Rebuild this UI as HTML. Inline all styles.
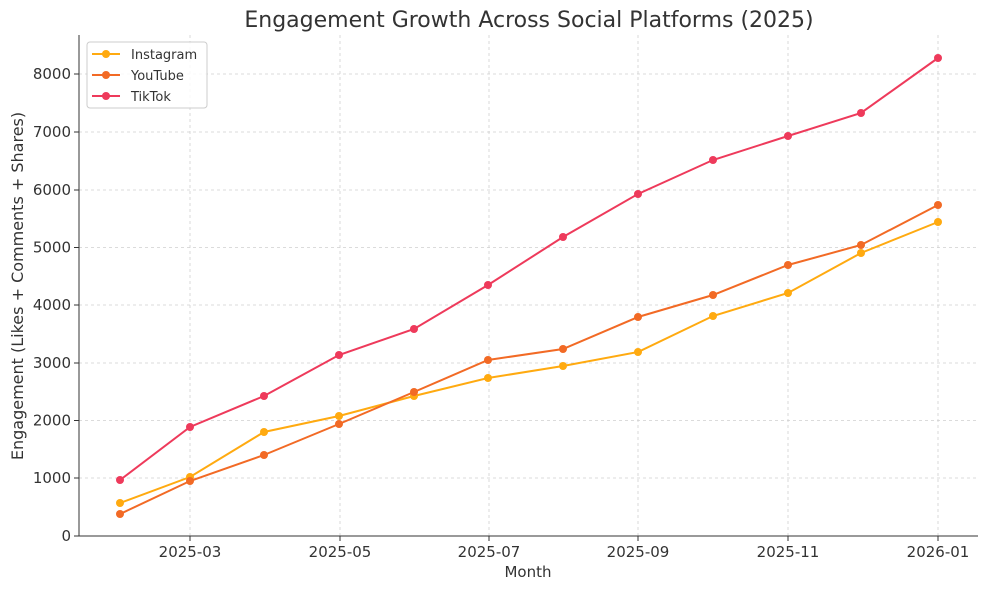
<!DOCTYPE html>
<html><head><meta charset="utf-8"><style>
body{margin:0;background:#fff;}
svg text{font-family:"DejaVu Sans","Liberation Sans",sans-serif;fill:#333;}
</style></head><body>
<svg width="988" height="590" viewBox="0 0 988 590" xmlns="http://www.w3.org/2000/svg">
<rect width="988" height="590" fill="#fff"/>
<text x="529" y="27" font-size="22" text-anchor="middle">Engagement Growth Across Social Platforms (2025)</text>
<g stroke="#d0d0d0" stroke-dasharray="3,3" stroke-width="0.8">
<line x1="190" y1="35" x2="190" y2="536"/><line x1="340" y1="35" x2="340" y2="536"/>
<line x1="489" y1="35" x2="489" y2="536"/><line x1="638" y1="35" x2="638" y2="536"/>
<line x1="788" y1="35" x2="788" y2="536"/><line x1="938" y1="35" x2="938" y2="536"/>
<line x1="79" y1="478" x2="978" y2="478"/><line x1="79" y1="420.5" x2="978" y2="420.5"/>
<line x1="79" y1="363" x2="978" y2="363"/><line x1="79" y1="305" x2="978" y2="305"/>
<line x1="79" y1="247.5" x2="978" y2="247.5"/><line x1="79" y1="190" x2="978" y2="190"/>
<line x1="79" y1="132" x2="978" y2="132"/><line x1="79" y1="74" x2="978" y2="74"/>
</g>
<g stroke="#333" stroke-width="1"><line x1="79" y1="35" x2="79" y2="536"/><line x1="79" y1="536" x2="978" y2="536"/>
<line x1="74" y1="536" x2="79" y2="536"/><line x1="74" y1="478" x2="79" y2="478"/><line x1="74" y1="420.5" x2="79" y2="420.5"/><line x1="74" y1="363" x2="79" y2="363"/><line x1="74" y1="305" x2="79" y2="305"/><line x1="74" y1="247.5" x2="79" y2="247.5"/><line x1="74" y1="190" x2="79" y2="190"/><line x1="74" y1="132" x2="79" y2="132"/><line x1="74" y1="74" x2="79" y2="74"/>
<line x1="190" y1="536" x2="190" y2="541"/><line x1="340" y1="536" x2="340" y2="541"/><line x1="489" y1="536" x2="489" y2="541"/><line x1="638" y1="536" x2="638" y2="541"/><line x1="788" y1="536" x2="788" y2="541"/><line x1="938" y1="536" x2="938" y2="541"/></g>
<g font-size="15" text-anchor="end">
<text x="71" y="541">0</text><text x="71" y="483">1000</text><text x="71" y="425.5">2000</text><text x="71" y="368">3000</text><text x="71" y="310">4000</text><text x="71" y="252.5">5000</text><text x="71" y="195">6000</text><text x="71" y="137">7000</text><text x="71" y="79">8000</text></g>
<g font-size="15" text-anchor="middle">
<text x="190" y="557">2025-03</text><text x="340" y="557">2025-05</text><text x="489" y="557">2025-07</text><text x="638" y="557">2025-09</text><text x="788" y="557">2025-11</text><text x="938" y="557">2026-01</text>
<text x="528" y="577">Month</text></g>
<text transform="translate(23,286) rotate(-90)" font-size="16" text-anchor="middle">Engagement (Likes + Comments + Shares)</text>
<g fill="none" stroke-width="2">
<polyline stroke="#FFAA10" points="120,503 190,477 264,432 339,416 414,396 488,378 563,366 638,352 713,316 788,293 861,253 938,222"/>
<polyline stroke="#F26A25" points="120,514 190,481 264,455 339,424 414,392 488,360 563,349 638,317 713,295 788,265 861,245 938,205"/>
<polyline stroke="#EE3A5B" points="120,480 190,427 264,396 339,355 414,329 488,285 563,237 638,194 713,160 788,136 861,113 938,58"/>
</g>
<g fill="#FFAA10"><circle cx="120" cy="503" r="4"/><circle cx="190" cy="477" r="4"/><circle cx="264" cy="432" r="4"/><circle cx="339" cy="416" r="4"/><circle cx="414" cy="396" r="4"/><circle cx="488" cy="378" r="4"/><circle cx="563" cy="366" r="4"/><circle cx="638" cy="352" r="4"/><circle cx="713" cy="316" r="4"/><circle cx="788" cy="293" r="4"/><circle cx="861" cy="253" r="4"/><circle cx="938" cy="222" r="4"/></g>
<g fill="#F26A25"><circle cx="120" cy="514" r="4"/><circle cx="190" cy="481" r="4"/><circle cx="264" cy="455" r="4"/><circle cx="339" cy="424" r="4"/><circle cx="414" cy="392" r="4"/><circle cx="488" cy="360" r="4"/><circle cx="563" cy="349" r="4"/><circle cx="638" cy="317" r="4"/><circle cx="713" cy="295" r="4"/><circle cx="788" cy="265" r="4"/><circle cx="861" cy="245" r="4"/><circle cx="938" cy="205" r="4"/></g>
<g fill="#EE3A5B"><circle cx="120" cy="480" r="4"/><circle cx="190" cy="427" r="4"/><circle cx="264" cy="396" r="4"/><circle cx="339" cy="355" r="4"/><circle cx="414" cy="329" r="4"/><circle cx="488" cy="285" r="4"/><circle cx="563" cy="237" r="4"/><circle cx="638" cy="194" r="4"/><circle cx="713" cy="160" r="4"/><circle cx="788" cy="136" r="4"/><circle cx="861" cy="113" r="4"/><circle cx="938" cy="58" r="4"/></g>
<rect x="87" y="42" width="120" height="66" rx="3" fill="#fff" fill-opacity="0.85" stroke="#ccc"/>
<g stroke-width="2"><line x1="92" y1="54" x2="120" y2="54" stroke="#FFAA10"/><line x1="92" y1="75" x2="120" y2="75" stroke="#F26A25"/><line x1="92" y1="96" x2="120" y2="96" stroke="#EE3A5B"/></g>
<circle cx="106" cy="54" r="4" fill="#FFAA10"/><circle cx="106" cy="75" r="4" fill="#F26A25"/><circle cx="106" cy="96" r="4" fill="#EE3A5B"/>
<g font-size="13"><text x="131" y="59">Instagram</text><text x="131" y="80">YouTube</text><text x="131" y="101">TikTok</text></g>
</svg>
</body></html>
